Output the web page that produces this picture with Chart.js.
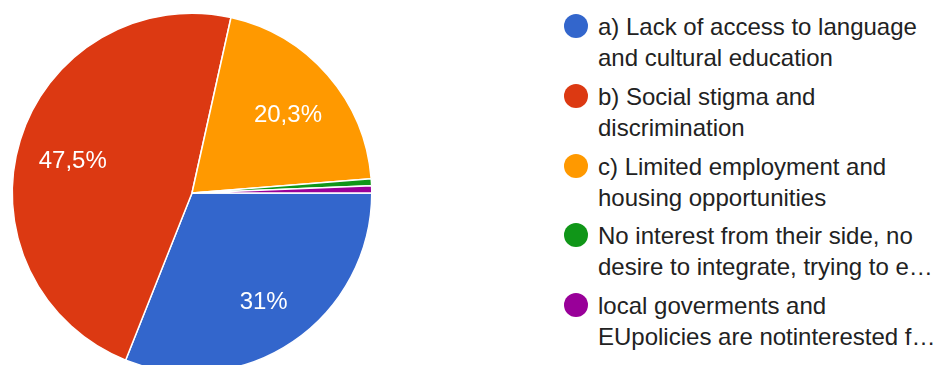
<!DOCTYPE html>
<html><head><meta charset="utf-8">
<script src="https://cdn.jsdelivr.net/npm/chart.js@4"></script>
<style>
html,body{margin:0;padding:0;background:#fff;width:938px;height:365px;overflow:hidden;position:relative;font-family:"Liberation Sans",Arial,sans-serif;}
#wrap{position:absolute;left:-1px;top:0;width:386px;height:386px;}
#legend{position:absolute;left:564px;top:11px;}
.item{display:flex;align-items:flex-start;margin-bottom:7.75px;}
.dot{width:24px;height:24px;border-radius:50%;flex:none;margin-top:3px;margin-right:10px;}
.txt{font-size:24px;line-height:31px;color:#222222;white-space:nowrap;}
</style></head>
<body>
<div id="wrap"><canvas id="c"></canvas></div>
<div id="legend"></div>
<script>
const categories = [
  ["a) Lack of access to language", "and cultural education"],
  ["b) Social stigma and", "discrimination"],
  ["c) Limited employment and", "housing opportunities"],
  ["No interest from their side, no", "desire to integrate, trying to e…"],
  ["local goverments and", "EUpolicies are notinterested f…"]
];
const responses = [49, 75, 32, 1, 1];
const colors = ["#3366cc", "#dc3912", "#ff9900", "#109618", "#990099"];

const total = responses.reduce((a,b)=>a+b,0);
function fmt(v){
  let s = (v/total*100).toFixed(1);
  if (s.endsWith('.0')) s = s.slice(0,-2);
  return s.replace('.', ',') + '%';
}

const lg = document.getElementById('legend');
categories.forEach((lines,i)=>{
  const it = document.createElement('div'); it.className='item';
  const d = document.createElement('div'); d.className='dot'; d.style.background=colors[i];
  const t = document.createElement('div'); t.className='txt'; t.innerHTML = lines.join('<br>');
  it.appendChild(d); it.appendChild(t); lg.appendChild(it);
});

const labelPlugin = {
  id:'sliceLabels',
  afterDatasetsDraw(chart){
    const ctx = chart.ctx;
    const meta = chart.getDatasetMeta(0);
    ctx.save();
    ctx.fillStyle = '#ffffff';
    ctx.font = '24px "Liberation Sans", Arial, sans-serif';
    ctx.textAlign = 'center';
    ctx.textBaseline = 'middle';
    meta.data.forEach((arc,i)=>{
      const v = responses[i];
      if (v/total < 0.05) return;
      const p = arc.getProps(['x','y','startAngle','endAngle','outerRadius'], true);
      const mid = (p.startAngle + p.endAngle)/2;
      const r = p.outerRadius * 0.7;
      ctx.fillText(fmt(v), p.x + Math.cos(mid)*r + 1, p.y + Math.sin(mid)*r + 5);
    });
    ctx.restore();
  }
};

new Chart(document.getElementById('c'), {
  type:'pie',
  data:{
    labels: categories.map(l=>l.join(' ')),
    datasets:[{
      data: responses,
      backgroundColor: colors,
      borderColor:'#ffffff',
      borderWidth:1.5
    }]
  },
  options:{
    responsive:true,
    maintainAspectRatio:false,
    animation:false,
    rotation:90,
    layout:{padding:12.5},
    plugins:{legend:{display:false}, tooltip:{enabled:false}}
  },
  plugins:[labelPlugin]
});
</script>
</body></html>
